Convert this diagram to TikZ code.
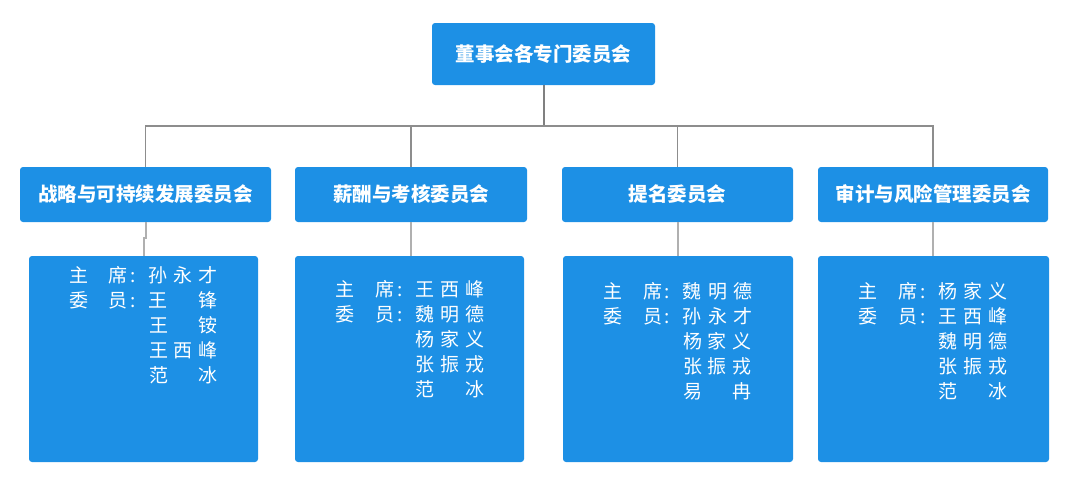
\documentclass[tikz,border=0pt]{standalone}
\usepackage{fontspec}
\setmainfont{Noto Sans CJK SC}
\definecolor{boxblue}{RGB}{29,144,229}
\definecolor{trunkgray}{RGB}{128,128,128}
\definecolor{linkgray}{RGB}{176,176,176}
\newcommand\mrow[6]{\hbox to 150pt{\makebox[20pt]{#1}\hspace{20pt}\makebox[20pt]{#2}\hspace{-5pt}\makebox[20pt]{#3}\hspace{5pt}\makebox[20pt]{#4}\hspace{5pt}\makebox[20pt]{#5}\hspace{5pt}\makebox[20pt]{#6}\hss}}
\newcommand\nrow[3]{\mrow{}{}{}{#1}{#2}{#3}}
\tikzset{
  bluebox/.style={draw=none, fill=boxblue, rounded corners=3pt, inner sep=0pt, text=white},
  titlebox/.style={bluebox, font=\fontsize{19.5}{22}\selectfont\bfseries},
  memberbox/.style={bluebox},
  members/.style={text=white, inner sep=0pt, anchor=base, font=\fontsize{19}{25}\selectfont},
  trunk/.style={draw=trunkgray, line width=2pt},
  bus/.style={draw=trunkgray!90, line width=1.2pt},
  link/.style={draw=linkgray, line width=2pt}
}
\begin{document}
\begin{tikzpicture}[x=1pt,y=-1pt]
\useasboundingbox (0,0) rectangle (1092,479);
% top
\node[titlebox, minimum width=223pt, minimum height=62pt] (top) at (543.5,54) {董事会各专门委员会};
% level 2
\node[titlebox, minimum width=251pt, minimum height=55pt] (u1) at (145.5,194.5) {战略与可持续发展委员会};
\node[titlebox, minimum width=232pt, minimum height=55pt] (u2) at (411,194.5) {薪酬与考核委员会};
\node[titlebox, minimum width=231pt, minimum height=55pt] (u3) at (677.5,194.5) {提名委员会};
\node[titlebox, minimum width=230pt, minimum height=55pt] (u4) at (933,194.5) {审计与风险管理委员会};
% level 3
\node[memberbox, minimum width=229pt, minimum height=206pt] (l1) at (143.5,359) {};
\node[memberbox, minimum width=229pt, minimum height=206pt] (l2) at (409.5,359) {};
\node[memberbox, minimum width=230pt, minimum height=206pt] (l3) at (678,359) {};
\node[memberbox, minimum width=231pt, minimum height=206pt] (l4) at (933.5,359) {};
% members
\node[members] (m1) at (143.5,282) {\vtop{\baselineskip=25pt
  \mrow{主}{席}{:}{孙}{永}{才}
  \mrow{委}{员}{:}{王}{}{锋}
  \nrow{王}{}{铵}
  \nrow{王}{西}{峰}
  \nrow{范}{}{冰}}};
\node[members] (m2) at (410,296) {\vtop{\baselineskip=25pt
  \mrow{主}{席}{:}{王}{西}{峰}
  \mrow{委}{员}{:}{魏}{明}{德}
  \nrow{杨}{家}{义}
  \nrow{张}{振}{戎}
  \nrow{范}{}{冰}}};
\node[members] (m3) at (677.5,298) {\vtop{\baselineskip=25pt
  \mrow{主}{席}{:}{魏}{明}{德}
  \mrow{委}{员}{:}{孙}{永}{才}
  \nrow{杨}{家}{义}
  \nrow{张}{振}{戎}
  \nrow{易}{}{冉}}};
\node[members] (m4) at (933,298) {\vtop{\baselineskip=25pt
  \mrow{主}{席}{:}{杨}{家}{义}
  \mrow{委}{员}{:}{王}{西}{峰}
  \nrow{魏}{明}{德}
  \nrow{张}{振}{戎}
  \nrow{范}{}{冰}}};
% connectors
\coordinate (busc) at (543.5,126);
\draw[trunk] (top.south) -- (busc);
\draw[bus] (u1.north) |- (busc);
\draw[bus] (u2.north) |- (busc);
\draw[bus] (u4.north) |- (busc);
\draw[bus] (u3.north) |- (busc);
\draw[link] (u1.south) -- ++(0,16) -| (l1.north);
\draw[link] (u2.south) -- (u2.south |- l2.north);
\draw[link] (u3.south) -- (u3.south |- l3.north);
\draw[link] (u4.south) -- (u4.south |- l4.north);
\end{tikzpicture}
\end{document}
